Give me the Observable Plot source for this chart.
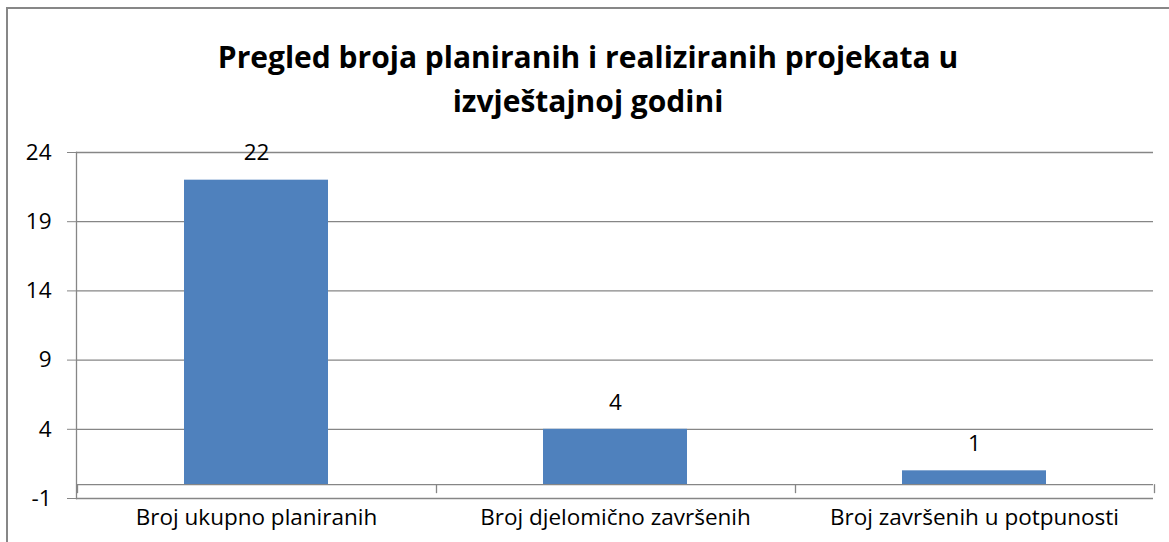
<!DOCTYPE html>
<html><head><meta charset="utf-8">
<script src="https://cdn.jsdelivr.net/npm/d3@7"></script>
<script src="https://cdn.jsdelivr.net/npm/@observablehq/plot@0.6"></script>
<style>
body{margin:0;background:#fff;overflow:hidden;width:1169px;height:542px;position:relative;font-family:"Open Sans",sans-serif}
#frame{position:absolute;left:6px;top:7px;width:1200px;height:600px;border:2px solid #878787;box-sizing:border-box}
#title{position:absolute;left:0;top:35px;width:1176px;text-align:center;font-weight:bold;font-size:30px;line-height:44px;color:#000}
#chart{position:absolute;left:0;top:130px}
#chart svg text{font-size:22.5px}
</style></head><body>
<div id="frame"></div>
<div id="title"></div>
<div id="chart"></div>
<script>
const categories = ["Broj ukupno planiranih", "Broj djelomično završenih", "Broj završenih u potpunosti"];
const values = [22, 4, 1];
const yTicks = [-1, 4, 9, 14, 19, 24];
const titleLines = ["Pregled broja planiranih i realiziranih projekata u", "izvještajnoj godini"];

const data = categories.map((c, i) => ({category: c, value: values[i]}));
const title = document.getElementById("title");
titleLines.forEach((t, i) => { if (i) title.appendChild(document.createElement("br")); title.appendChild(document.createTextNode(t)); });

const gray = "#868686";
const boundaryTicks = (index, scales, values, dims) => {
  const x = scales.scales.x, y = scales.y;
  const gap = x.step - x.bandwidth;
  const edges = categories.map(c => x.apply(c) - gap / 2);
  edges.push(edges[edges.length - 1] + x.step);
  const g = d3.create("svg:g");
  const y0 = y(0);
  edges.forEach(e => g.append("line").attr("x1", Math.round(e) + 0.5).attr("x2", Math.round(e) + 0.5)
    .attr("y1", y0).attr("y2", y0 + 9).attr("stroke", gray).attr("stroke-width", 1.3));
  return g.node();
};

const chart = Plot.plot({
  width: 1169, height: 412,
  marginTop: 22, marginBottom: 44, marginLeft: 76, marginRight: 16,
  x: {domain: categories, paddingInner: 0.6, paddingOuter: 0.3, label: null},
  y: {domain: [-1, 24], label: null},
  style: {fontFamily: "'Open Sans', sans-serif", fontSize: "22.5px", color: "#000", background: "transparent"},
  marks: [
    Plot.ruleY(yTicks, {stroke: gray, strokeWidth: 1.3}),
    Plot.barY(data, {x: "category", y1: 0, y2: "value", fill: "#4F81BD"}),
    Plot.ruleY([0], {stroke: gray, strokeWidth: 1.3}),
    Plot.frame({anchor: "left", stroke: gray, strokeWidth: 1.3}),
    Plot.axisY({ticks: yTicks, tickFormat: d => String(d), tickSize: 9, tickPadding: 16, stroke: gray, fill: "#000"}),
    Plot.axisX({tickSize: 0, tickPadding: 11, fill: "#000"}),
    boundaryTicks,
    Plot.text(data, {x: "category", y: "value", text: d => String(d.value), dy: -27, fill: "#000"})
  ]
});
document.getElementById("chart").appendChild(chart);
</script>
</body></html>
